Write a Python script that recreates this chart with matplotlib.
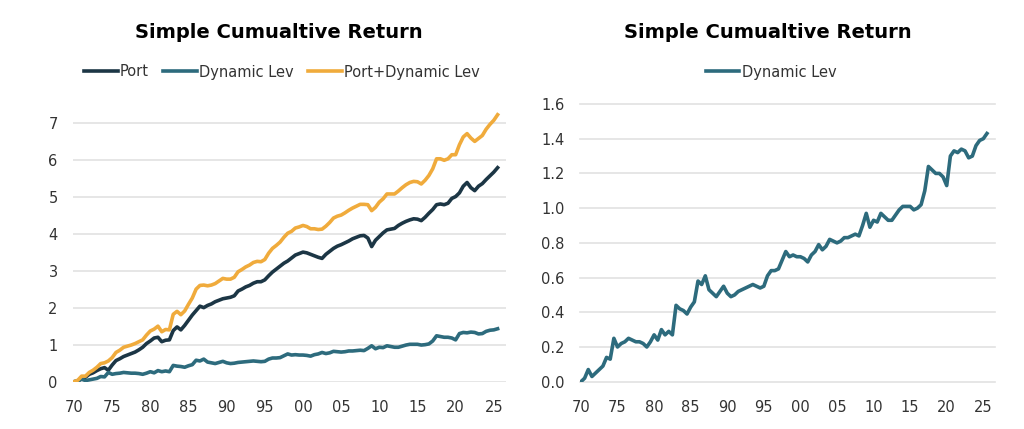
import matplotlib
matplotlib.use("Agg")
import matplotlib.pyplot as plt
import numpy as np

# half-year observation dates, 1970.0 .. 2025.5
years = np.arange(1970.0, 2025.51, 0.5)

# Simple cumulative return, Port
port = [
    0.00, 0.02, 0.08, 0.12, 0.20, 0.24, 0.30, 0.35, 0.38, 0.31,
    0.45, 0.57, 0.62, 0.68, 0.72, 0.76, 0.80, 0.86, 0.93, 1.03,
    1.10, 1.18, 1.20, 1.08, 1.12, 1.13, 1.38, 1.48, 1.40, 1.52,
    1.66, 1.80, 1.92, 2.04, 2.00, 2.06, 2.10, 2.16, 2.20, 2.24,
    2.26, 2.28, 2.32, 2.45, 2.50, 2.56, 2.60, 2.66, 2.70, 2.70,
    2.75, 2.86, 2.96, 3.04, 3.12, 3.20, 3.26, 3.34, 3.42, 3.46,
    3.50, 3.48, 3.44, 3.40, 3.36, 3.33, 3.44, 3.52, 3.60, 3.66,
    3.70, 3.75, 3.80, 3.86, 3.90, 3.94, 3.95, 3.88, 3.65, 3.82,
    3.92, 4.02, 4.10, 4.12, 4.14, 4.22, 4.28, 4.33, 4.37, 4.40,
    4.39, 4.35, 4.44, 4.55, 4.65, 4.78, 4.80, 4.78, 4.82, 4.95,
    5.00, 5.10, 5.28, 5.38, 5.24, 5.16, 5.28, 5.35, 5.46, 5.56,
    5.66, 5.78,
]

# Simple cumulative return, Dynamic Lev
dyn_lev = [
    0.00, 0.02, 0.07, 0.03, 0.05, 0.07, 0.09, 0.14, 0.13, 0.25,
    0.20, 0.22, 0.23, 0.25, 0.24, 0.23, 0.23, 0.22, 0.20, 0.23,
    0.27, 0.24, 0.30, 0.27, 0.29, 0.27, 0.44, 0.42, 0.41, 0.39,
    0.43, 0.46, 0.58, 0.56, 0.61, 0.53, 0.51, 0.49, 0.52, 0.55,
    0.51, 0.49, 0.50, 0.52, 0.53, 0.54, 0.55, 0.56, 0.55, 0.54,
    0.55, 0.61, 0.64, 0.64, 0.65, 0.70, 0.75, 0.72, 0.73, 0.72,
    0.72, 0.71, 0.69, 0.73, 0.75, 0.79, 0.76, 0.78, 0.82, 0.81,
    0.80, 0.81, 0.83, 0.83, 0.84, 0.85, 0.84, 0.90, 0.97, 0.89,
    0.93, 0.92, 0.97, 0.95, 0.93, 0.93, 0.96, 0.99, 1.01, 1.01,
    1.01, 0.99, 1.00, 1.02, 1.10, 1.24, 1.22, 1.20, 1.20, 1.18,
    1.13, 1.30, 1.33, 1.32, 1.34, 1.33, 1.29, 1.30, 1.36, 1.39,
    1.40, 1.43,
]

# combined series is the sum of the two
port_dyn = np.array(port) + np.array(dyn_lev)

tick_years = list(range(1970, 2026, 5))
tick_labels = [f"{y % 100:02d}" for y in tick_years]

c_port = "#1c3645"
c_dyn = "#2d6b7d"
c_both = "#f0ab3c"
grid_c = "#e2e2e2"
text_c = "#333333"
title = "Simple Cumualtive Return"

fig = plt.figure(figsize=(10.24, 4.29), dpi=100)
W, H = 1024, 429


def style(ax, yticks, fmt, ylim):
    ax.set_xlim(1969.87, 2026.6)
    ax.set_ylim(*ylim)
    ax.set_xticks(tick_years)
    ax.set_xticklabels(tick_labels)
    ax.set_yticks(yticks)
    ax.set_yticklabels([fmt.format(v) for v in yticks])
    for s in ax.spines.values():
        s.set_visible(False)
    ax.tick_params(axis="both", length=0, labelsize=10.5, colors=text_c)
    ax.tick_params(axis="y", pad=11)
    ax.tick_params(axis="x", pad=13)
    ax.grid(axis="y", color=grid_c, linewidth=1.2)
    ax.set_axisbelow(True)


# left chart
ax1 = fig.add_axes([73 / W, 1 - 381.7 / H, (506 - 73) / W, (381.7 - 104) / H])
l1, = ax1.plot(years, port, color=c_port, lw=2.6, label="Port")
l2, = ax1.plot(years, dyn_lev, color=c_dyn, lw=2.6, label="Dynamic Lev")
l3, = ax1.plot(years, port_dyn, color=c_both, lw=2.6, label="Port+Dynamic Lev")
style(ax1, range(0, 8), "{:d}", (0, 7.5))

# right chart
ax2 = fig.add_axes([580 / W, 1 - 381.7 / H, (995 - 580) / W, (381.7 - 104) / H])
l4, = ax2.plot(years, dyn_lev, color=c_dyn, lw=2.6, label="Dynamic Lev")
style(ax2, np.round(np.arange(0, 1.61, 0.2), 1), "{:.1f}", (0, 1.6))
for ln in ax2.get_ygridlines():
    ln.set_clip_on(False)

# titles
fig.text(279 / W, 1 - 33 / H, title, ha="center", va="center",
         fontsize=14, fontweight="bold", color="black")
fig.text(768 / W, 1 - 33 / H, title, ha="center", va="center",
         fontsize=14, fontweight="bold", color="black")

# legends
leg_kw = dict(loc="center", frameon=False, fontsize=10.5, handlelength=2.3,
              handletextpad=0.15, columnspacing=1.0, labelcolor=text_c)
fig.legend(handles=[l1, l2, l3], ncol=3,
           bbox_to_anchor=(282 / W, 1 - 72 / H), **leg_kw)
fig.legend(handles=[l4], ncol=1,
           bbox_to_anchor=(771 / W, 1 - 72 / H), **leg_kw)

fig.savefig("out.png", dpi=100)
